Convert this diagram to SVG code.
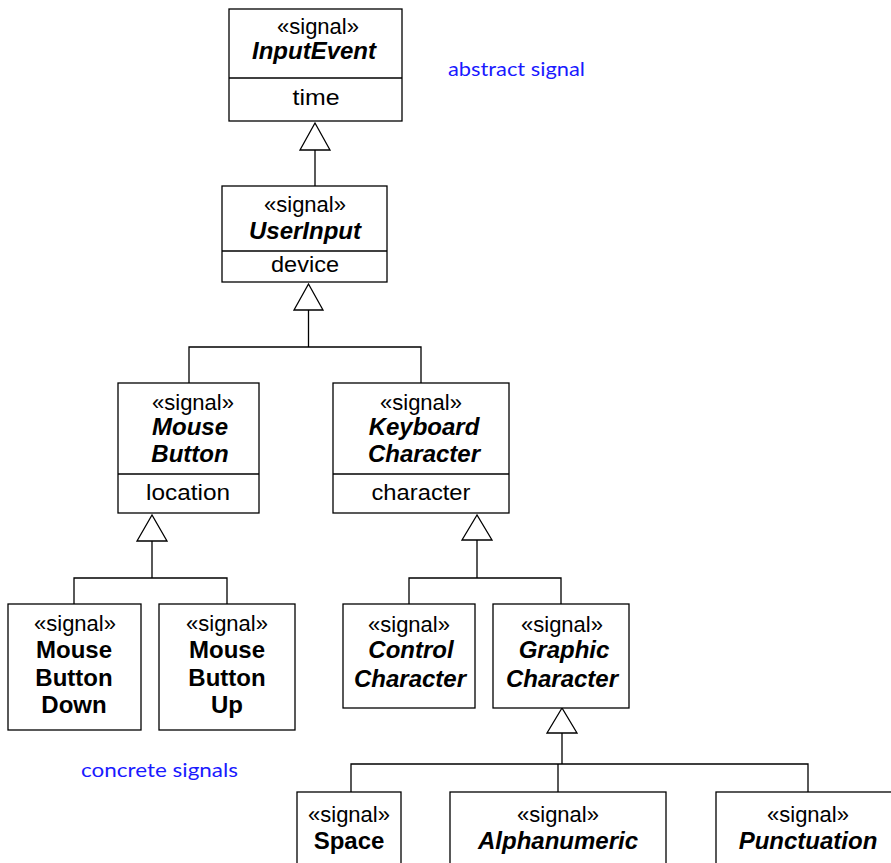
<svg xmlns="http://www.w3.org/2000/svg" width="891" height="863" viewBox="0 0 891 863">
<style>
.box{fill:#fff;stroke:#000;stroke-width:1.3}
.ln{fill:none;stroke:#000;stroke-width:1.3}
.tri{fill:#fff;stroke:#000;stroke-width:1.3}
text{font-family:"Liberation Sans",Arial,sans-serif;font-size:22px;text-anchor:middle;fill:#000}
.ab{font-weight:bold;font-style:italic;font-size:24px}
.cn{font-weight:bold;font-size:24px}
.note{font-family:Lato,"Noto Sans",sans-serif;font-size:19px;fill:#1a1aff;text-anchor:start}
</style>
<rect width="891" height="863" fill="#fff"/>
<g id="connectors">
<path class="ln" d="M315,150 V186"/>
<polygon class="tri" points="315,123 300,150 330,150"/>
<path class="ln" d="M308.5,310 V347 M189,383 V347 H421 V383"/>
<polygon class="tri" points="308.5,284 294,310 323,310"/>
<path class="ln" d="M152,541 V578 M74,604 V578 H227 V604"/>
<polygon class="tri" points="152,515 137,541 167,541"/>
<path class="ln" d="M477,540 V578 M409,604 V578 H561 V604"/>
<polygon class="tri" points="477,515 462,540 492,540"/>
<path class="ln" d="M562,733 V764 M351,792 V764 H808 V792 M558,764 V792"/>
<polygon class="tri" points="562,708 547,733 577,733"/>
</g>
<g id="InputEvent">
<rect class="box" x="229" y="9" width="173" height="112"/>
<line class="ln" x1="229" y1="78" x2="402" y2="78"/>
<text x="318" y="34">«signal»</text>
<text class="ab" x="314" y="59">InputEvent</text>
<text x="316" y="105" textLength="47" lengthAdjust="spacingAndGlyphs">time</text>
</g>
<g id="UserInput">
<rect class="box" x="222" y="186" width="165" height="96"/>
<line class="ln" x1="222" y1="251" x2="387" y2="251"/>
<text x="305" y="212">«signal»</text>
<text class="ab" x="305" y="239">UserInput</text>
<text x="305" y="272" textLength="68" lengthAdjust="spacingAndGlyphs">device</text>
</g>
<g id="MouseButton">
<rect class="box" x="118" y="383" width="141" height="130"/>
<line class="ln" x1="118" y1="474" x2="259" y2="474"/>
<text x="193" y="410">«signal»</text>
<text class="ab" x="190" y="435">Mouse</text>
<text class="ab" x="190" y="462">Button</text>
<text x="188" y="500" textLength="84" lengthAdjust="spacingAndGlyphs">location</text>
</g>
<g id="KeyboardCharacter">
<rect class="box" x="333" y="383" width="176" height="130"/>
<line class="ln" x1="333" y1="474" x2="509" y2="474"/>
<text x="421" y="410">«signal»</text>
<text class="ab" x="424" y="435">Keyboard</text>
<text class="ab" x="424" y="462">Character</text>
<text x="421" y="500" textLength="99" lengthAdjust="spacingAndGlyphs">character</text>
</g>
<g id="MouseButtonDown">
<rect class="box" x="8" y="604" width="133" height="126"/>
<text x="75" y="631">«signal»</text>
<text class="cn" x="74" y="658">Mouse</text>
<text class="cn" x="74" y="686">Button</text>
<text class="cn" x="74" y="713">Down</text>
</g>
<g id="MouseButtonUp">
<rect class="box" x="159" y="604" width="136" height="126"/>
<text x="227" y="631">«signal»</text>
<text class="cn" x="227" y="658">Mouse</text>
<text class="cn" x="227" y="686">Button</text>
<text class="cn" x="227" y="713">Up</text>
</g>
<g id="ControlCharacter">
<rect class="box" x="343" y="604" width="132" height="104"/>
<text x="409" y="632">«signal»</text>
<text class="ab" x="411" y="658">Control</text>
<text class="ab" x="410" y="687">Character</text>
</g>
<g id="GraphicCharacter">
<rect class="box" x="493" y="604" width="136" height="104"/>
<text x="562" y="632">«signal»</text>
<text class="ab" x="564" y="658">Graphic</text>
<text class="ab" x="562" y="687">Character</text>
</g>
<g id="Space">
<rect class="box" x="297" y="792" width="104" height="90"/>
<text x="349" y="822">«signal»</text>
<text class="cn" x="349" y="849">Space</text>
</g>
<g id="Alphanumeric">
<rect class="box" x="450" y="792" width="216" height="90"/>
<text x="558" y="822">«signal»</text>
<text class="ab" x="558" y="849">Alphanumeric</text>
</g>
<g id="Punctuation">
<rect class="box" x="716" y="792" width="190" height="90"/>
<text x="808" y="822">«signal»</text>
<text class="ab" x="808" y="849">Punctuation</text>
</g>
<g id="notes">
<text class="note" x="448" y="76" textLength="137" lengthAdjust="spacingAndGlyphs">abstract signal</text>
<text class="note" x="81" y="777" textLength="157" lengthAdjust="spacingAndGlyphs">concrete signals</text>
</g>
</svg>
